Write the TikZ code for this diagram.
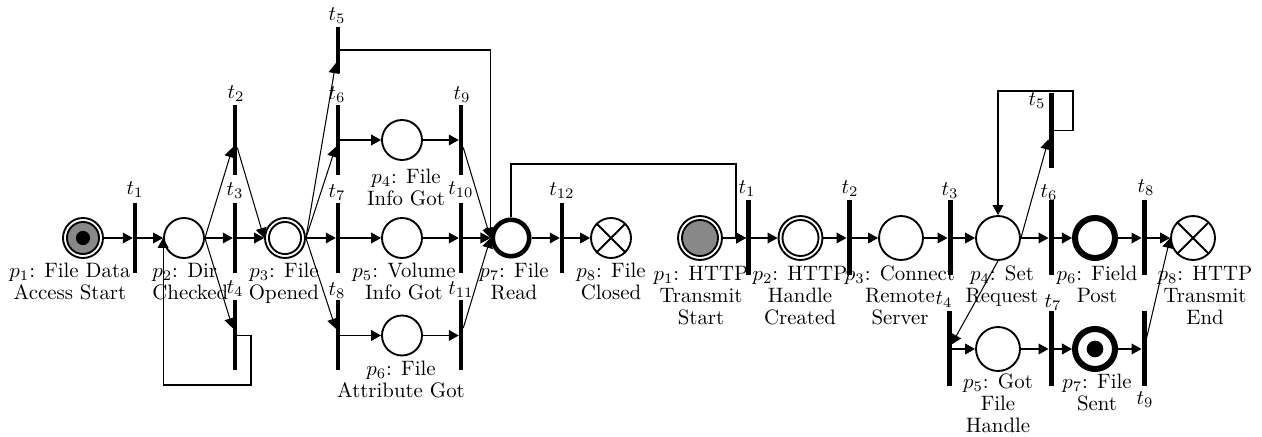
\documentclass[tikz,border=0pt]{standalone}
\usetikzlibrary{arrows.meta}
\definecolor{pgray}{RGB}{136,136,136}
\begin{document}
\begin{tikzpicture}[x=0.48pt,y=-0.48pt,
  place/.style={circle,draw,line width=0.9pt,inner sep=0pt,minimum size=19.2pt},
  bigplace/.style={place,minimum size=21.1pt},
  thickplace/.style={place,line width=2.2pt,minimum size=17.5pt},
  bigthick/.style={place,line width=2.9pt,minimum size=19.2pt},
  trans/.style={rectangle,fill=black,inner sep=0pt,outer sep=0pt,minimum width=2.16pt,minimum height=33.6pt},
  bigtrans/.style={trans,minimum width=2.4pt,minimum height=36pt},
  arc/.style={-{Triangle[length=4.8pt,width=5.2pt]},line width=0.5pt},
  plabel/.style={anchor=north,align=center,inner sep=0pt,font=\fontsize{10}{10.6}\selectfont},
  tlabel/.style={inner sep=0pt}]
\useasboundingbox (0,0) rectangle (1262,437);

% ---------------- left net ----------------
\node[place] (p1) at (83,238) {};
\node[trans] (t1) at (135,238) {};
\node[place] (p2) at (184,238) {};
\node[trans] (t2) at (235,140) {};
\node[trans] (t3) at (235,238) {};
\node[trans] (t4) at (235,335.5) {};
\node[place] (p3) at (285,238) {};
\node[trans,minimum height=22pt] (t5) at (338,50) {};
\node[trans] (t6) at (338,140) {};
\node[trans] (t7) at (338,238) {};
\node[trans] (t8) at (338,335.5) {};
\node[place] (p4) at (402,140) {};
\node[place] (p5) at (402,238) {};
\node[place] (p6) at (402,335.5) {};
\node[trans] (t9) at (461,140) {};
\node[trans] (t10) at (461,238) {};
\node[trans] (t11) at (461,335.5) {};
\node[thickplace] (p7) at (511,238) {};
\node[trans] (t12) at (562,238) {};
\node[place] (p8) at (611,238) {};

\draw[line width=0.9pt,fill=pgray] (p1) circle (7.7pt);
\fill (p1) circle (3.4pt);
\draw[line width=0.9pt] (p3) circle (7.7pt);
\draw[line width=0.9pt] (p8.45) -- (p8.225) (p8.135) -- (p8.-45);

\node[tlabel] (lt1) at (135,190) {$t_{1}$};
\node[tlabel] (lt2) at (236,94) {$t_{2}$};
\node[tlabel] (lt3) at (235,191) {$t_{3}$};
\node[tlabel] (lt4) at (235,289) {$t_{4}$};
\node[tlabel] (lt5) at (337,16) {$t_{5}$};
\node[tlabel] (lt6) at (337,95) {$t_{6}$};
\node[tlabel] (lt7) at (337,193) {$t_{7}$};
\node[tlabel] (lt8) at (337,291) {$t_{8}$};
\node[tlabel] (lt9) at (462,95) {$t_{9}$};
\node[tlabel] (lt10) at (461,190) {$t_{10}$};
\node[tlabel] (lt11) at (461,290) {$t_{11}$};
\node[tlabel] (lt12) at (562,191) {$t_{12}$};

\node[plabel] (lp1) at (70,262.5) {$p_1$: File Data\\Access Start};
\node[plabel,anchor=north west,align=left] (lp2) at (152,262.5) {$p_2$: Dir\\Checked};
\node[plabel] (lp3) at (284,262.5) {$p_3$: File\\Opened};
\node[plabel] (lp4) at (406,168.5) {$p_4$: File\\Info Got};
\node[plabel] (lp5) at (404,262.5) {$p_5$: Volume\\Info Got};
\node[plabel] (lp6) at (401,360.5) {$p_6$: File\\Attribute Got};
\node[plabel] (lp7) at (514,262.5) {$p_7$: File\\Read};
\node[plabel] (lp8) at (611,262.5) {$p_8$: File\\Closed};

\coordinate (l1) at (251,385);
\coordinate (l2) at (736,164);

\draw[arc] (p1) -- (t1);
\draw[arc] (t1) -- (p2);
\draw[arc] (p2.east) -- (t2);
\draw[arc] (p2) -- (t3);
\draw[arc] (p2.east) -- (t4);
\draw[arc] (t2) -- (p3.west);
\draw[arc] (t3) -- (p3);
\draw[arc] (t4.east) -| (l1) -| (p2.west);
\draw[arc] (p3.east) -- (t5);
\draw[arc] (p3.east) -- (t6);
\draw[arc] (p3) -- (t7);
\draw[arc] (p3.east) -- (t8);
\draw[arc] (t5) -| (p7.west);
\draw[arc] (t6) -- (p4);
\draw[arc] (t7) -- (p5);
\draw[arc] (t8) -- (p6);
\draw[arc] (p4) -- (t9);
\draw[arc] (p5) -- (t10);
\draw[arc] (p6) -- (t11);
\draw[arc] (t9) -- (p7.west);
\draw[arc] (t10) -- (p7);
\draw[arc] (t11) -- (p7.west);
\draw[arc] (p7) -- (t12);
\draw[arc] (t12) -- (p8);

% ---------------- right net ----------------
\node[bigplace] (P1) at (700,238) {};
\node[bigtrans] (T1) at (748.5,238) {};
\node[bigplace] (P2) at (800.5,238) {};
\node[bigtrans] (T2) at (849,238) {};
\node[bigplace] (P3) at (901,238) {};
\node[bigtrans] (T3) at (950,238) {};
\node[bigplace] (P4) at (998,238) {};
\node[bigtrans] (T4) at (949,349) {};
\node[bigtrans] (T5) at (1051,130.5) {};
\node[bigtrans] (T6) at (1051,238) {};
\node[bigplace] (P5) at (998,349) {};
\node[bigthick] (P6) at (1095,238) {};
\node[bigtrans] (T7) at (1051,349) {};
\node[bigthick] (P7) at (1095,349) {};
\node[bigtrans] (T8) at (1144,238) {};
\node[bigtrans] (T9) at (1144,349) {};
\node[bigplace] (P8) at (1193,238) {};

\draw[line width=0.9pt,fill=pgray] (P1) circle (8.64pt);
\draw[line width=0.9pt] (P2) circle (8.64pt);
\fill (P7) circle (4pt);
\draw[line width=0.9pt] (P8.45) -- (P8.225) (P8.135) -- (P8.-45);

\node[tlabel] (LT1) at (747,189) {$t_{1}$};
\node[tlabel] (LT2) at (850,189) {$t_{2}$};
\node[tlabel] (LT3) at (950,191) {$t_{3}$};
\node[tlabel] (LT4) at (944,300) {$t_{4}$};
\node[tlabel] (LT5) at (1037,101) {$t_{5}$};
\node[tlabel] (LT6) at (1049,193) {$t_{6}$};
\node[tlabel] (LT7) at (1053,303) {$t_{7}$};
\node[tlabel] (LT8) at (1146,188) {$t_{8}$};
\node[tlabel] (LT9) at (1145,400) {$t_{9}$};

\node[plabel] (LP1) at (701,265.5) {$p_1$: HTTP\\Transmit\\Start};
\node[plabel] (LP2) at (800,265.5) {$p_2$: HTTP\\Handle\\Created};
\node[plabel] (LP3) at (900,265.5) {$p_3$: Connect\\Remote\\Server};
\node[plabel] (LP4) at (1002,265.5) {$p_4$: Set\\Request};
\node[plabel] (LP6) at (1097,265.5) {$p_6$: Field\\Post};
\node[plabel] (LP8) at (1205,265.5) {$p_8$: HTTP\\Transmit\\End};
\node[plabel] (LP5) at (998,373.5) {$p_5$: Got\\File\\Handle};
\node[plabel] (LP7) at (1097,373.5) {$p_7$: File\\Sent};

\coordinate (l3) at (1073,91);

\draw[arc] (p7.north) |- (l2) |- (T1.west);
\draw[arc] (P1) -- (T1);
\draw[arc] (T1) -- (P2);
\draw[arc] (P2) -- (T2);
\draw[arc] (T2) -- (P3);
\draw[arc] (P3) -- (T3);
\draw[arc] (T3) -- (P4);
\draw[arc] (P4.east) -- (T5);
\draw[arc] (T5.east) -| (l3) -| (P4.north);
\draw[arc] (P4) -- (T6);
\draw[arc] (T6) -- (P6);
\draw[arc] (P6) -- (T8);
\draw[arc] (T8) -- (P8);
\draw[arc] (P4.south) -- (T4);
\draw[arc] (T4) -- (P5);
\draw[arc] (P5) -- (T7);
\draw[arc] (T7) -- (P7);
\draw[arc] (P7) -- (T9);
\draw[arc] (T9) -- (P8.west);
\end{tikzpicture}
\end{document}
